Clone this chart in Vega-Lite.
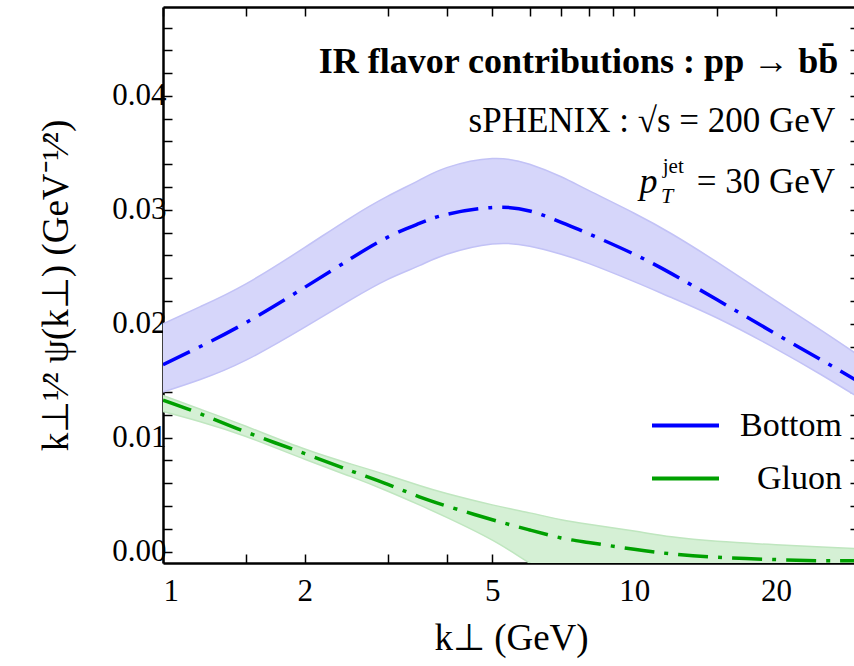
{
  "$schema": "https://vega.github.io/schema/vega-lite/v6.json",
  "width": 696,
  "height": 556,
  "autosize": "none",
  "padding": {"left": 163, "top": 7, "right": 0, "bottom": 103},
  "background": "white",
  "config": {
    "view": {"stroke": null},
    "axis": {"labelFont": "Liberation Serif", "titleFont": "Liberation Serif", "labelColor": "#000", "titleColor": "#000", "tickColor": "#000", "tickWidth": 1.5, "grid": false, "domain": true, "domainColor": "#000", "domainWidth": 2.5, "titleFontWeight": "normal", "labelOverlap": false, "labelFontSize": 31, "titleFontSize": 37},
    "text": {"font": "Liberation Serif", "color": "#000"}
  },
  "datasets": {
    "bands": [
      {"series": "Bottom", "k": 1, "lo": 0.0140, "mid": 0.0164, "hi": 0.0200},
      {"series": "Bottom", "k": 1.2, "lo": 0.0151, "mid": 0.0180, "hi": 0.0215},
      {"series": "Bottom", "k": 1.5, "lo": 0.0168, "mid": 0.0201, "hi": 0.0235},
      {"series": "Bottom", "k": 2, "lo": 0.0197, "mid": 0.0232, "hi": 0.0267},
      {"series": "Bottom", "k": 2.5, "lo": 0.0221, "mid": 0.0257, "hi": 0.0293},
      {"series": "Bottom", "k": 3, "lo": 0.0239, "mid": 0.0276, "hi": 0.0312},
      {"series": "Bottom", "k": 3.5, "lo": 0.0251, "mid": 0.0288, "hi": 0.0326},
      {"series": "Bottom", "k": 4, "lo": 0.0261, "mid": 0.0296, "hi": 0.0337},
      {"series": "Bottom", "k": 5, "lo": 0.0270, "mid": 0.0302, "hi": 0.0345},
      {"series": "Bottom", "k": 6, "lo": 0.0268, "mid": 0.0299, "hi": 0.0340},
      {"series": "Bottom", "k": 7, "lo": 0.0261, "mid": 0.0289, "hi": 0.0329},
      {"series": "Bottom", "k": 8, "lo": 0.0253, "mid": 0.0279, "hi": 0.0317},
      {"series": "Bottom", "k": 10, "lo": 0.0237, "mid": 0.0261, "hi": 0.0297},
      {"series": "Bottom", "k": 12, "lo": 0.0223, "mid": 0.0244, "hi": 0.0279},
      {"series": "Bottom", "k": 15, "lo": 0.0205, "mid": 0.0221, "hi": 0.0254},
      {"series": "Bottom", "k": 20, "lo": 0.0178, "mid": 0.0191, "hi": 0.0220},
      {"series": "Bottom", "k": 25, "lo": 0.0155, "mid": 0.0168, "hi": 0.0194},
      {"series": "Bottom", "k": 30, "lo": 0.0135, "mid": 0.0149, "hi": 0.0172},
      {"series": "Gluon", "k": 1, "lo": 0.0123, "mid": 0.0133, "hi": 0.0137},
      {"series": "Gluon", "k": 1.2, "lo": 0.0114, "mid": 0.0121, "hi": 0.0125},
      {"series": "Gluon", "k": 1.5, "lo": 0.0101, "mid": 0.0105, "hi": 0.0110},
      {"series": "Gluon", "k": 2, "lo": 0.0081, "mid": 0.0086, "hi": 0.0090},
      {"series": "Gluon", "k": 2.5, "lo": 0.0066, "mid": 0.0071, "hi": 0.0077},
      {"series": "Gluon", "k": 3, "lo": 0.0053, "mid": 0.0059, "hi": 0.0067},
      {"series": "Gluon", "k": 3.5, "lo": 0.0041, "mid": 0.0048, "hi": 0.0058},
      {"series": "Gluon", "k": 4, "lo": 0.0030, "mid": 0.0040, "hi": 0.0051},
      {"series": "Gluon", "k": 5, "lo": 0.0010, "mid": 0.0028, "hi": 0.0041},
      {"series": "Gluon", "k": 6, "lo": -0.0010, "mid": 0.0019, "hi": 0.0034},
      {"series": "Gluon", "k": 7, "lo": -0.0026, "mid": 0.0012, "hi": 0.0028},
      {"series": "Gluon", "k": 8, "lo": -0.0038, "mid": 0.0008, "hi": 0.0024},
      {"series": "Gluon", "k": 10, "lo": -0.0050, "mid": 0.0002, "hi": 0.0018},
      {"series": "Gluon", "k": 12, "lo": -0.0056, "mid": -0.0002, "hi": 0.0013},
      {"series": "Gluon", "k": 15, "lo": -0.0060, "mid": -0.0005, "hi": 0.0009},
      {"series": "Gluon", "k": 20, "lo": -0.0062, "mid": -0.0007, "hi": 0.0006},
      {"series": "Gluon", "k": 25, "lo": -0.0063, "mid": -0.0008, "hi": 0.0004},
      {"series": "Gluon", "k": 30, "lo": -0.0064, "mid": -0.0008, "hi": 0.00025}
    ]
  },
  "data": {"name": "bands"},
  "layer": [
    {
      "mark": {"type": "area", "clip": true, "interpolate": "natural"},
      "encoding": {
        "x": {
          "field": "k", "type": "quantitative",
          "scale": {"type": "log", "domain": [1, 30], "nice": false},
          "axis": {
            "orient": "bottom",
            "values": [1, 1.5, 2, 3, 4, 5, 6, 7, 8, 9, 10, 15, 20, 30],
            "labelExpr": "indexof([1,2,5,10,20], datum.value) >= 0 ? format(datum.value, 'd') : ''",
            "tickSize": -9,
            "labelPadding": 22,
            "title": "k⊥  (GeV)",
            "titlePadding": 14,
            "encode": {"ticks": {"update": {"y2": {"signal": "indexof([1,2,5,10,20], datum.value) >= 0 ? -9 : -6"}}}}
          }
        },
        "y": {
          "field": "lo", "type": "quantitative",
          "scale": {"domain": [-0.001, 0.0478], "nice": false, "zero": false},
          "axis": {
            "orient": "left",
            "values": [0, 0.002, 0.004, 0.006, 0.008, 0.01, 0.012, 0.014, 0.016, 0.018, 0.02, 0.022, 0.024, 0.026, 0.028, 0.03, 0.032, 0.034, 0.036, 0.038, 0.04, 0.042, 0.044, 0.046],
            "labelExpr": "round(datum.value*1000) % 10 == 0 ? format(datum.value, '.2f') : ''",
            "tickSize": -9,
            "labelPadding": 6,
            "title": "k⊥¹⁄² ψ(k⊥)   (GeV⁻¹⁄²)",
            "titlePadding": 36,
            "encode": {"ticks": {"update": {"x2": {"signal": "round(datum.value*1000) % 10 == 0 ? 9 : 6"}}}}
          }
        },
        "y2": {"field": "hi"},
        "detail": {"field": "series"},
        "fill": {"condition": {"test": "datum.series === 'Bottom'", "value": "#d6d6fa"}, "value": "#d5f0d5"}
      }
    },
    {
      "mark": {"type": "line", "clip": true, "interpolate": "natural", "strokeWidth": 1.5},
      "encoding": {
        "x": {"field": "k", "type": "quantitative", "axis": null},
        "y": {"field": "lo", "type": "quantitative", "axis": null},
        "detail": {"field": "series"},
        "stroke": {"condition": {"test": "datum.series === 'Bottom'", "value": "#c2c2f6"}, "value": "#bfe6bf"}
      }
    },
    {
      "mark": {"type": "line", "clip": true, "interpolate": "natural", "strokeWidth": 1.5},
      "encoding": {
        "x": {"field": "k", "type": "quantitative", "axis": null},
        "y": {"field": "hi", "type": "quantitative", "axis": null},
        "detail": {"field": "series"},
        "stroke": {"condition": {"test": "datum.series === 'Bottom'", "value": "#c2c2f6"}, "value": "#bfe6bf"}
      }
    },
    {
      "mark": {"type": "line", "clip": true, "interpolate": "natural", "strokeWidth": 3.5, "strokeDash": [30, 10, 4, 10]},
      "encoding": {
        "x": {"field": "k", "type": "quantitative", "axis": null},
        "y": {"field": "mid", "type": "quantitative", "axis": null},
        "stroke": {
          "field": "series", "type": "nominal",
          "scale": {"domain": ["Bottom", "Gluon"], "range": ["#0000ff", "#00a000"]},
          "legend": {
            "orient": "none", "legendX": 487, "legendY": 383, "title": null,
            "symbolType": "stroke", "symbolSize": 4489, "symbolStrokeWidth": 4,
            "labelFont": "Liberation Serif", "labelFontSize": 34, "labelColor": "#000",
            "labelAlign": "right", "labelOffset": 121, "rowPadding": -13, "labelLimit": 0,
            "encode": {"symbols": {"update": {"strokeDash": {"value": [1, 0]}, "strokeWidth": {"value": 4}, "opacity": {"value": 1}}}}
          }
        }
      }
    },
    {
      "data": {"values": [{}]},
      "mark": {"type": "text", "text": "IR flavor contributions :  pp → bb̄", "align": "right", "baseline": "alphabetic", "fontSize": 36, "fontWeight": "bold", "letterSpacing": 1.6},
      "encoding": {
        "x": {"datum": 27.1, "type": "quantitative", "axis": null},
        "y": {"datum": 0.0420, "type": "quantitative", "axis": null}
      }
    },
    {
      "data": {"values": [{}]},
      "mark": {"type": "text", "text": "sPHENIX :  √s = 200 GeV", "align": "right", "baseline": "alphabetic", "fontSize": 35, "letterSpacing": 1.3},
      "encoding": {
        "x": {"datum": 26.7, "type": "quantitative", "axis": null},
        "y": {"datum": 0.03684, "type": "quantitative", "axis": null}
      }
    },
    {
      "data": {"values": [{}]},
      "mark": {"type": "text", "text": "= 30 GeV", "align": "right", "baseline": "alphabetic", "fontSize": 35, "letterSpacing": 0.6},
      "encoding": {
        "x": {"datum": 26.7, "type": "quantitative", "axis": null},
        "y": {"datum": 0.03149, "type": "quantitative", "axis": null}
      }
    },
    {
      "data": {"values": [{}]},
      "mark": {"type": "text", "text": "p", "align": "right", "baseline": "alphabetic", "fontSize": 36, "fontStyle": "italic"},
      "encoding": {
        "x": {"datum": 11.2, "type": "quantitative", "axis": null},
        "y": {"datum": 0.03149, "type": "quantitative", "axis": null}
      }
    },
    {
      "data": {"values": [{}]},
      "mark": {"type": "text", "text": "jet", "align": "left", "baseline": "alphabetic", "fontSize": 21},
      "encoding": {
        "x": {"datum": 11.5, "type": "quantitative", "axis": null},
        "y": {"datum": 0.0332, "type": "quantitative", "axis": null}
      }
    },
    {
      "data": {"values": [{}]},
      "mark": {"type": "text", "text": "T", "align": "left", "baseline": "alphabetic", "fontSize": 22, "fontStyle": "italic"},
      "encoding": {
        "x": {"datum": 11.4, "type": "quantitative", "axis": null},
        "y": {"datum": 0.0306, "type": "quantitative", "axis": null}
      }
    },
    {
      "mark": {"type": "point", "opacity": 0},
      "encoding": {
        "x": {
          "field": "k", "type": "quantitative",
          "axis": {
            "orient": "top", "values": [1, 1.5, 2, 3, 4, 5, 6, 7, 8, 9, 10, 15, 20, 30],
            "labels": false, "title": null, "tickSize": -9,
            "encode": {"ticks": {"update": {"y2": {"signal": "indexof([1,2,5,10,20], datum.value) >= 0 ? 9 : 6"}}}}
          }
        },
        "y": {
          "field": "mid", "type": "quantitative",
          "axis": {
            "orient": "right",
            "values": [0, 0.002, 0.004, 0.006, 0.008, 0.01, 0.012, 0.014, 0.016, 0.018, 0.02, 0.022, 0.024, 0.026, 0.028, 0.03, 0.032, 0.034, 0.036, 0.038, 0.04, 0.042, 0.044, 0.046],
            "labels": false, "title": null, "tickSize": -9,
            "encode": {"ticks": {"update": {"x2": {"signal": "round(datum.value*1000) % 10 == 0 ? -9 : -6"}}}}
          }
        }
      }
    }
  ],
  "resolve": {"axis": {"x": "independent", "y": "independent"}}
}
